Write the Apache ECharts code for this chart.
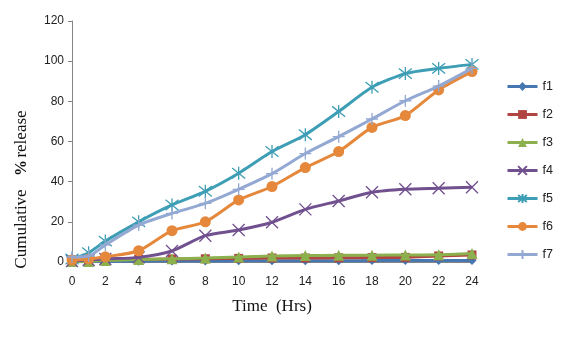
<!DOCTYPE html>
<html>
<head>
<meta charset="utf-8">
<script src="https://cdn.jsdelivr.net/npm/echarts@6/dist/echarts.min.js"></script>
<style>
  html, body { margin: 0; padding: 0; background: #fff; }
  #chart { width: 564px; height: 341px; }
</style>
</head>
<body>
<div id="chart"></div>
<script>
// Sampling times (hours)
const hours = [0, 1, 2, 4, 6, 8, 10, 12, 14, 16, 18, 20, 22, 24];

// Cumulative % release per formulation
const f1 = [0, 0.2, 0.3, 0.4, 0.5, 0.5, 0.6, 0.6, 0.6, 0.6, 0.7, 0.7, 0.8, 0.8];
const f2 = [1.0, 0.5, 1.2, 1.3, 1.5, 1.6, 1.8, 2.0, 2.0, 2.1, 2.2, 2.3, 3.0, 3.5];
const f3 = [0.3, 0.3, 0.8, 1.2, 1.6, 2.0, 2.5, 3.0, 3.2, 3.3, 3.4, 3.5, 3.6, 4.2];
const f4 = [0.5, 1.0, 1.5, 2.3, 5.5, 13.1, 15.9, 19.8, 26.2, 30.4, 34.7, 36.2, 36.7, 37.2];
const f5 = [1.5, 4.6, 10.4, 20.0, 28.4, 35.2, 44.2, 55.0, 63.4, 74.9, 87.0, 93.8, 96.4, 98.4];
const f6 = [1.0, 1.5, 2.6, 5.6, 15.6, 20.0, 30.9, 37.6, 47.0, 55.0, 67.0, 72.9, 85.7, 94.8];
const f7 = [2.5, 3.0, 8.5, 18.4, 24.2, 29.2, 36.2, 44.0, 54.0, 62.4, 71.2, 80.3, 87.6, 96.4];

const seriesNames = ['f1', 'f2', 'f3', 'f4', 'f5', 'f6', 'f7'];
const seriesValues = [f1, f2, f3, f4, f5, f6, f7];

const colors = ['#4677B0', '#B04542', '#8CB04D', '#71508F', '#3E9EB5', '#E5883C', '#93A8D2'];
const SYM_X = 'path://M0,0L10,10M10,0L0,10';
const SYM_AST = 'path://M1,1L9,9M9,1L1,9M5,0L5,10';
const SYM_PLUS = 'path://M5,0L5,10M0,5L10,5';
const symbols = ['diamond', 'rect', 'triangle', SYM_X, SYM_AST, 'circle', SYM_PLUS];
const symbolSizes = [9, 9, 11, 12, 13, 11, 12];
const stroked = [false, false, false, true, true, false, true];

const series = seriesNames.map((name, i) => ({
  name: name,
  type: 'line',
  smooth: 0.25,
  data: hours.map((h, k) => [h, seriesValues[i][k]]),
  symbol: symbols[i],
  symbolSize: symbolSizes[i],
  showAllSymbol: true,
  lineStyle: { color: colors[i], width: 3 },
  itemStyle: stroked[i]
    ? { color: colors[i], borderColor: colors[i], borderWidth: 1.3 }
    : { color: colors[i] },
  emphasis: { disabled: true },
  z: 2 + i
}));

const chart = echarts.init(document.getElementById('chart'), null, { renderer: 'canvas' });

const serif = '"Liberation Serif", "DejaVu Serif", serif';
const tickFont = { fontFamily: '"Liberation Sans", Arial, sans-serif', fontSize: 12, color: '#222' };

chart.setOption({
  animation: false,
  backgroundColor: '#fff',
  grid: { left: 72, right: 92, top: 21, bottom: 79 },
  xAxis: {
    type: 'value',
    min: 0, max: 24, interval: 2,
    axisLine: { show: true, lineStyle: { color: '#868686', width: 1 } },
    axisTick: { show: false },
    splitLine: { show: false },
    axisLabel: Object.assign({ margin: 14 }, tickFont)
  },
  yAxis: {
    type: 'value',
    min: 0, max: 120, interval: 20,
    axisLine: { show: true, lineStyle: { color: '#868686', width: 1 } },
    axisTick: { show: true, inside: false, length: 4, lineStyle: { color: '#868686' } },
    splitLine: { show: false },
    axisLabel: Object.assign({ margin: 8 }, tickFont)
  },
  legend: {
    orient: 'vertical',
    left: 501,
    top: 75,
    itemWidth: 30,
    itemHeight: 11,
    itemGap: 15,
    lineStyle: { width: 3 },
    textStyle: { fontFamily: '"Liberation Sans", Arial, sans-serif', fontSize: 12.5, color: '#222' },
    data: seriesNames
  },
  graphic: [
    {
      type: 'text', x: 272, y: 307,
      style: { text: 'Time  (Hrs)', font: '17px ' + serif, fill: '#111', align: 'center', verticalAlign: 'middle' }
    },
    {
      type: 'text', x: 22, y: 229, rotation: Math.PI / 2,
      style: { text: 'Cumulative', font: '17px ' + serif, fill: '#111', align: 'center', verticalAlign: 'middle' }
    },
    {
      type: 'text', x: 22, y: 168, rotation: Math.PI / 2,
      style: { text: '%', font: 'bold 16px ' + serif, fill: '#111', align: 'center', verticalAlign: 'middle' }
    },
    {
      type: 'text', x: 22, y: 134, rotation: Math.PI / 2,
      style: { text: 'release', font: '17px ' + serif, fill: '#111', align: 'center', verticalAlign: 'middle' }
    }
  ],
  series: series
});
</script>
</body>
</html>
